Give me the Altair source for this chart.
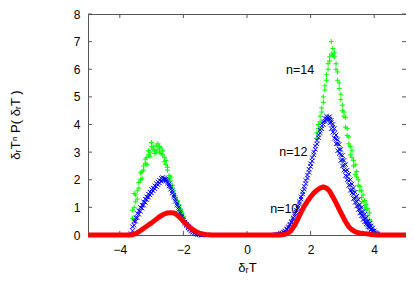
import altair as alt
import pandas as pd

FONT = "Liberation Sans"

# ---- axis ticks ----
x_ticks = [-4, -2, 0, 2, 4]
y_ticks = [0, 1, 2, 3, 4, 5, 6, 7, 8]

# ---- annotations ----
label_x = [1.67, 1.46, 1.17]
label_y = [5.98, 3.0, 0.94]
label_text = ["n=14", "n=12", "n=10"]

# ---- n=10 (red) ----
red_x = [-5.0, -4.0, -3.7, -3.6, -3.5, -3.4, -3.3, -3.2, -3.1, -3.0, -2.9, -2.8, -2.7, -2.6,
         -2.5, -2.4, -2.3, -2.2, -2.1, -2.0, -1.9, -1.8, -1.7, -1.6, -1.5, -1.4, -1.3, -1.2,
         -1.1, -1.0, 0.0, 1.0, 1.1, 1.2, 1.3, 1.4, 1.5, 1.6, 1.7, 1.8, 1.9, 2.0, 2.1, 2.2,
         2.3, 2.4, 2.5, 2.6, 2.7, 2.8, 2.9, 3.0, 3.1, 3.2, 3.3, 3.4, 3.5, 3.6, 3.7, 3.8,
         3.9, 4.0, 4.1, 4.5, 5.0]
red_y = [0.0, 0.0, 0.0, 0.01, 0.05, 0.12, 0.2, 0.28, 0.36, 0.44, 0.53, 0.62, 0.7, 0.76,
         0.8, 0.81, 0.8, 0.73, 0.62, 0.5, 0.38, 0.28, 0.19, 0.12, 0.07, 0.04, 0.02, 0.01,
         0.0, 0.0, 0.0, 0.0, 0.01, 0.03, 0.08, 0.18, 0.36, 0.58, 0.82, 1.04, 1.22, 1.38, 1.52, 1.62,
         1.7, 1.74, 1.7, 1.58, 1.38, 1.16, 0.93, 0.7, 0.48, 0.3, 0.19, 0.12, 0.08, 0.06, 0.05, 0.04,
         0.02, 0.01, 0.0, 0.0, 0.0]

# ---- n=12 (blue) ----
blue_left_x = [-3.65, -3.60, -3.55, -3.50, -3.45, -3.40, -3.35, -3.30, -3.25, -3.20, -3.15, -3.10,
               -3.05, -3.00, -2.95, -2.90, -2.85, -2.80, -2.75, -2.70, -2.65, -2.60, -2.55, -2.50,
               -2.45, -2.40, -2.35, -2.30, -2.25, -2.20, -2.15, -2.10, -2.05, -2.00, -1.95, -1.90,
               -1.85, -1.80, -1.75, -1.70, -1.65, -1.60, -1.55, -1.50, -1.45, -1.40]
blue_left_a = [0.00, 0.15, 0.35, 0.50, 0.62, 0.75, 0.86, 0.97, 1.08, 1.18, 1.28, 1.37,
               1.45, 1.52, 1.60, 1.68, 1.75, 1.82, 1.88, 1.95, 2.00, 2.05, 2.02, 1.95,
               1.85, 1.74, 1.60, 1.45, 1.30, 1.15, 1.00, 0.85, 0.70, 0.58, 0.47, 0.38,
               0.30, 0.23, 0.17, 0.12, 0.08, 0.05, 0.03, 0.02, 0.01, 0.00]
blue_left_b = [0.05, 0.30, 0.50, 0.62, 0.78, 0.88, 1.00, 1.08, 1.20, 1.30, 1.38, 1.48,
               1.55, 1.65, 1.70, 1.78, 1.86, 1.92, 1.98, 2.05, 2.08, 2.00, 1.96, 1.88,
               1.78, 1.66, 1.52, 1.38, 1.22, 1.08, 0.92, 0.78, 0.64, 0.52, 0.42, 0.34,
               0.26, 0.20, 0.14, 0.10, 0.07, 0.04, 0.02, 0.01, 0.00, 0.00]
blue_right_x = [0.90, 0.95, 1.00, 1.05, 1.10, 1.15, 1.20, 1.25, 1.30, 1.35, 1.40, 1.45, 1.50,
                1.55, 1.60, 1.65, 1.70, 1.75, 1.80, 1.85, 1.90, 1.95, 2.00, 2.05, 2.10, 2.15,
                2.20, 2.25, 2.30, 2.35, 2.40, 2.45, 2.50, 2.55, 2.60, 2.65, 2.70, 2.75, 2.80,
                2.85, 2.90, 2.95, 3.00, 3.05, 3.10, 3.15, 3.20, 3.25, 3.30, 3.35, 3.40, 3.45,
                3.50, 3.55, 3.60, 3.65, 3.70, 3.75, 3.80, 3.85, 3.90, 3.95, 4.00, 4.05, 4.10]
blue_right_a = [0.00, 0.01, 0.02, 0.04, 0.06, 0.09, 0.13, 0.19, 0.26, 0.35, 0.45, 0.56, 0.68,
                0.82, 0.97, 1.12, 1.30, 1.48, 1.66, 1.86, 2.06, 2.27, 2.48, 2.68, 2.90, 3.10,
                3.30, 3.52, 3.70, 3.85, 4.00, 4.12, 4.20, 4.25, 4.20, 4.08, 3.90, 3.68, 3.48,
                3.30, 3.10, 2.90, 2.72, 2.52, 2.32, 2.12, 1.96, 1.80, 1.62, 1.48, 1.32, 1.20,
                1.06, 0.92, 0.80, 0.68, 0.58, 0.47, 0.38, 0.30, 0.22, 0.15, 0.09, 0.05, 0.02]
blue_right_b = [0.01, 0.02, 0.03, 0.05, 0.07, 0.11, 0.15, 0.22, 0.30, 0.39, 0.50, 0.62, 0.75,
                0.89, 1.04, 1.20, 1.38, 1.57, 1.76, 1.97, 2.17, 2.38, 2.58, 2.80, 3.00, 3.22,
                3.42, 3.62, 3.80, 3.95, 4.10, 4.22, 4.30, 4.18, 4.05, 3.85, 3.72, 3.50, 3.30,
                3.05, 2.95, 2.70, 2.50, 2.35, 2.15, 2.00, 1.80, 1.62, 1.52, 1.32, 1.18, 1.05,
                0.92, 0.80, 0.70, 0.56, 0.48, 0.40, 0.30, 0.25, 0.18, 0.12, 0.07, 0.04, 0.01]
blue_tail_x = [2.60, 2.65, 2.70, 2.75, 2.80, 2.85, 2.90, 2.95, 3.00, 3.05, 3.10, 3.15, 3.20,
               3.25, 3.30, 3.35, 3.40, 3.45, 3.50, 3.55, 3.60, 3.65, 3.70, 3.75, 3.80, 3.85,
               3.90, 3.95, 4.00, 4.05, 4.10]
blue_tail_y = [4.28, 4.15, 4.00, 3.85, 3.62, 3.45, 3.28, 3.10, 2.88, 2.70, 2.55, 2.35, 2.20,
               2.00, 1.85, 1.70, 1.55, 1.40, 1.28, 1.10, 1.00, 0.85, 0.75, 0.62, 0.50, 0.42,
               0.33, 0.25, 0.15, 0.08, 0.04]

# ---- n=14 (green) ----
green_left_x = [-3.60, -3.55, -3.50, -3.45, -3.40, -3.35, -3.30, -3.25, -3.20, -3.15, -3.10,
                -3.05, -3.00, -2.95, -2.90, -2.85, -2.80, -2.75, -2.70, -2.65, -2.60, -2.55,
                -2.50, -2.45, -2.40, -2.35, -2.30, -2.25, -2.20, -2.15, -2.10, -2.05, -2.00]
green_left_a = [0.6, 1.5, 1.2, 1.6, 1.9, 2.0, 2.3, 2.5, 2.6, 2.8, 2.9, 3.0, 3.2, 3.1, 3.05,
                3.25, 3.1, 3.0, 3.15, 2.9, 2.8, 2.55, 2.35, 2.15, 1.95, 1.8, 1.6, 1.42, 1.25,
                1.1, 0.95, 0.82, 0.68]
green_left_b = [0.9, 1.0, 1.45, 1.3, 1.7, 2.25, 2.05, 2.35, 2.75, 2.55, 3.05, 2.85, 3.35, 3.2,
                2.95, 3.0, 3.3, 3.2, 2.95, 3.05, 2.65, 2.7, 2.45, 2.05, 2.1, 1.7, 1.5, 1.35,
                1.18, 1.0, 0.88, 0.75, 0.6]
green_right_x = [2.20, 2.25, 2.30, 2.35, 2.40, 2.45, 2.50, 2.55, 2.60, 2.65, 2.70, 2.75, 2.80,
                 2.85, 2.90, 2.95, 3.00, 3.05, 3.10, 3.15, 3.20, 3.25, 3.30, 3.35, 3.40, 3.45,
                 3.50, 3.55, 3.60, 3.65, 3.70, 3.75, 3.80, 3.85, 3.90, 3.95]
green_right_a = [3.5, 3.85, 4.1, 4.45, 4.8, 5.25, 5.6, 6.0, 6.3, 6.55, 6.75, 6.45, 6.2, 5.9,
                 5.5, 5.1, 4.7, 4.45, 4.25, 3.85, 3.55, 3.2, 3.05, 2.7, 2.55, 2.3, 2.0, 1.75,
                 1.6, 1.45, 1.25, 1.1, 0.95, 0.8, 0.5, 0.2]
green_right_b = [3.7, 4.0, 4.3, 4.6, 5.0, 5.4, 5.8, 6.2, 6.45, 7.0, 6.5, 6.6, 6.0, 5.6, 5.3,
                 4.9, 4.5, 4.3, 3.9, 3.6, 3.3, 2.9, 2.8, 2.5, 2.2, 2.1, 1.8, 1.6, 1.35, 1.2,
                 1.0, 0.9, 0.7, 0.55, 0.35, 0.1]


def frame(xs_, ys_):
    return pd.DataFrame({"x": xs_, "y": ys_})


green_df = pd.concat([frame(green_left_x, green_left_a), frame(green_left_x, green_left_b),
                      frame(green_right_x, green_right_a), frame(green_right_x, green_right_b)])
blue_df = pd.concat([frame(blue_left_x, blue_left_a), frame(blue_left_x, blue_left_b),
                     frame(blue_right_x, blue_right_a), frame(blue_right_x, blue_right_b),
                     frame(blue_tail_x, blue_tail_y)])
red_df = frame(red_x, red_y)
label_df = pd.DataFrame({"x": label_x, "y": label_y, "t": label_text})
xt_df = pd.DataFrame({"x": x_ticks})
yt_df = pd.DataFrame({"y": y_ticks})

W, H = 318, 221
AX = "#555555"
xs = alt.Scale(domain=[-5, 5], nice=False, zero=False)
ys = alt.Scale(domain=[0, 8], nice=False, zero=False)

ax_x = alt.Axis(values=x_ticks, ticks=False, tickSize=0, domain=False, grid=False,
                labelFont=FONT, labelFontSize=12, labelColor="#000000", labelPadding=9,
                title="δᵣT", titleFont=FONT, titleFontSize=13, titleFontWeight="normal",
                titleColor="#000000", titleX=W / 2, titleY=32, titleBaseline="middle",
                titleAlign="center")
ax_y = alt.Axis(values=y_ticks, ticks=False, tickSize=0, domain=False, grid=False,
                labelFont=FONT, labelFontSize=12, labelColor="#000000", labelPadding=8,
                title="δᵣTⁿ P( δᵣT )", titleFont=FONT, titleFontSize=13,
                titleFontWeight="normal", titleColor="#000000", titleX=-73, titleY=H / 2,
                titleBaseline="middle", titleAlign="center", titleAngle=270)

X = alt.X("x:Q", scale=xs, axis=ax_x)
Y = alt.Y("y:Q", scale=ys, axis=ax_y)

PLUS = "M-1,0L1,0M0,-1L0,1"
CROSS = "M-1,-1L1,1M-1,1L1,-1"

green = alt.Chart(green_df).mark_point(shape=PLUS, filled=False, color="#00ff00",
                                       strokeWidth=1, size=25, opacity=1).encode(x=X, y=Y)

blue = alt.Chart(blue_df).mark_point(shape=CROSS, filled=False, color="#0000ff",
                                     strokeWidth=1, size=20, opacity=1).encode(x=X, y=Y)

red = alt.Chart(red_df).mark_line(color="#ff0000", strokeWidth=5, strokeJoin="round").encode(
    x=X, y=Y)

labels = alt.Chart(label_df).mark_text(font=FONT, fontSize=12.5, color="#000000",
                                       align="center", baseline="middle").encode(
    x=X, y=Y, text="t:N")

xt_bottom = alt.Chart(xt_df).mark_rule(color=AX, strokeWidth=1).encode(
    x=X, y=alt.value(H), y2=alt.value(H - 4))
xt_top = alt.Chart(xt_df).mark_rule(color=AX, strokeWidth=1).encode(
    x=X, y=alt.value(0), y2=alt.value(4))
yt_left = alt.Chart(yt_df).mark_rule(color=AX, strokeWidth=1).encode(
    y=Y, x=alt.value(0), x2=alt.value(4))
yt_right = alt.Chart(yt_df).mark_rule(color=AX, strokeWidth=1).encode(
    y=Y, x=alt.value(W), x2=alt.value(W - 4))

chart = alt.layer(green, blue, red, labels, xt_bottom, xt_top, yt_left, yt_right).properties(
    width=W, height=H,
    padding={"left": 80, "top": 6, "right": 0, "bottom": 48},
    autosize=alt.AutoSizeParams(type="none"),
).configure_view(stroke=AX, strokeWidth=1)

chart.save("out.html", embed_options={"renderer": "svg", "actions": False})
